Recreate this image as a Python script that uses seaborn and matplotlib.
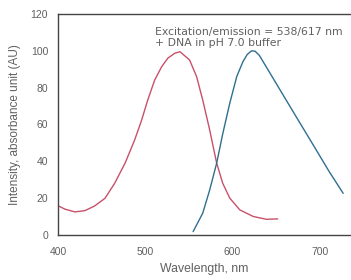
import matplotlib
matplotlib.use("Agg")
import matplotlib.pyplot as plt
import seaborn as sns
import pandas as pd

sns.set_style("white")
plt.rcParams['font.family'] = ['Liberation Sans', 'DejaVu Sans']

ex_wl = [400, 408, 419.5, 431, 442, 454, 465, 477, 488, 496, 503, 511, 519, 526, 534, 540,
         551, 559, 566, 574, 582, 589, 597, 608.5, 624, 639, 652]
ex_int = [15.9, 14.0, 12.5, 13.2, 15.7, 19.9, 28, 39, 51.6, 62.4, 73.3, 84.2, 91.4, 96, 98.7, 99.5,
          95, 86, 73.3, 57, 39, 28, 20, 13.6, 10, 8.5, 8.7]
em_wl = [555, 566, 574, 582, 589, 597, 605, 612, 617, 622, 626, 631, 636, 643, 654, 673, 692, 711, 727]
em_int = [1.8, 11.8, 24.4, 39, 55, 71.5, 86, 94, 98, 100, 99.8, 97.5, 93.5, 88, 79.3, 64.3, 49.4, 34.4, 22.6]
x_ticks = [400, 500, 600, 700]
y_ticks = [0, 20, 40, 60, 80, 100, 120]

ex = pd.DataFrame({"wl": ex_wl, "val": ex_int})
em = pd.DataFrame({"wl": em_wl, "val": em_int})

fig = plt.figure(figsize=(3.51, 2.80), dpi=100)
ax = fig.add_axes([0.165, 0.161, 0.835, 0.789])
sns.lineplot(data=ex, x="wl", y="val", ax=ax, color="#c8506a", lw=1.0)
sns.lineplot(data=em, x="wl", y="val", ax=ax, color="#2f6f8f", lw=1.0)

ax.set_xlim(400, 736)
ax.set_ylim(0, 120)
ax.set_xticks(x_ticks)
ax.set_yticks(y_ticks)
for s in ["left", "bottom", "top"]:
    ax.spines[s].set_color("#444444")
    ax.spines[s].set_linewidth(1.0)
ax.spines["right"].set_visible(False)
ax.tick_params(axis="both", direction="out", length=4, width=0.8, colors="#444444",
               labelsize=7.5, labelcolor="#606060")
ax.tick_params(axis="x", pad=5)
ax.tick_params(axis="y", pad=3)
ax.set_xlabel("Wavelength, nm", fontsize=8.8, color="#606060", labelpad=4)
ax.set_ylabel("Intensity, absorbance unit (AU)", fontsize=8.5, color="#606060", labelpad=7)
ax.text(511, 110.4, "Excitation/emission = 538/617 nm", fontsize=7.8, color="#606060",
        va="center", family=["DejaVu Sans"])
ax.text(511, 104.1, "+ DNA in pH 7.0 buffer", fontsize=7.8, color="#606060",
        va="center", family=["DejaVu Sans"])

fig.savefig("out.png", dpi=100)
